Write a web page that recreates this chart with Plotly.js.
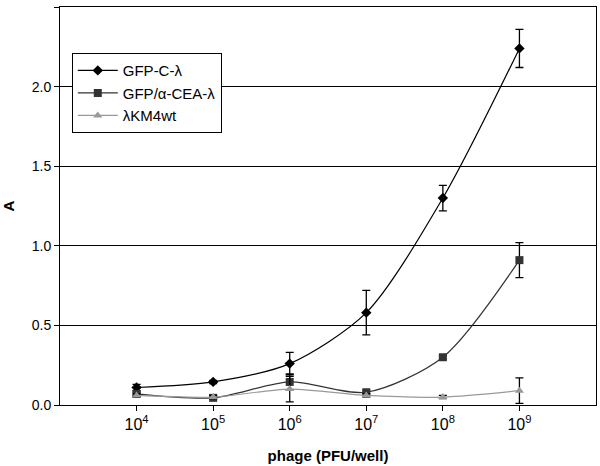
<!DOCTYPE html>
<html>
<head>
<meta charset="utf-8">
<script src="https://cdn.plot.ly/plotly-3.0.1.min.js"></script>
<style>
  body { margin: 0; background: #fff; }
  #chart { width: 600px; height: 466px; }
</style>
</head>
<body>
<div id="chart"></div>
<script>
// phage dose categories (PFU/well)
const doses = ["1e4", "1e5", "1e6", "1e7", "1e8", "1e9"];
const doseLabels = ["10<sup>4</sup>", "10<sup>5</sup>", "10<sup>6</sup>", "10<sup>7</sup>", "10<sup>8</sup>", "10<sup>9</sup>"];

const gfpC = [0.11, 0.145, 0.26, 0.58, 1.30, 2.24];
const gfpCErr = [0.02, 0.01, 0.07, 0.14, 0.08, 0.12];

const gfpCea = [0.07, 0.045, 0.145, 0.08, 0.30, 0.91];
const gfpCeaErr = [0.01, 0.01, 0.05, 0.01, 0.01, 0.11];

const km4wt = [0.06, 0.05, 0.10, 0.06, 0.05, 0.09];
const km4wtErr = [0.01, 0.01, 0.08, 0.01, 0.01, 0.08];

function series(name, y, err, color, symbol, size) {
    return {
        x: doses,
        y: y,
        name: name,
        type: "scatter",
        mode: "lines+markers",
        line: {color: color, width: 1.2, shape: "spline", smoothing: 0.8},
        marker: {color: color, symbol: symbol, size: size},
        error_y: {type: "data", array: err, visible: true, color: "#000", thickness: 1.3, width: 4}
    };
}

const traces = [
    series("GFP-C-λ", gfpC, gfpCErr, "#000000", "diamond", 8),
    series("GFP/α-CEA-λ", gfpCea, gfpCeaErr, "#333333", "square", 8),
    series("λKM4wt", km4wt, km4wtErr, "#999999", "triangle-up", 8)
];

const layout = {
    width: 600,
    height: 466,
    margin: {l: 60, r: 4, t: 7, b: 61},
    paper_bgcolor: "#fff",
    plot_bgcolor: "#fff",
    font: {family: "Liberation Sans, Arial, sans-serif", size: 14, color: "#000"},
    showlegend: true,
    legend: {
        x: 0.022, y: 0.884, xanchor: "left", yanchor: "top",
        bordercolor: "#000", borderwidth: 1, bgcolor: "#fff",
        font: {size: 15}, tracegroupgap: 0, itemwidth: 40
    },
    xaxis: {
        type: "category",
        range: [-1, 6],
        tickvals: doses,
        ticktext: doseLabels,
        showline: true, linecolor: "#000", linewidth: 1, mirror: true,
        ticks: "outside", ticklen: 5, tickcolor: "#000",
        showgrid: false, zeroline: false,
        tickfont: {size: 16},
        title: {text: "<b>phage (PFU/well)</b>", font: {size: 15}, standoff: 18}
    },
    yaxis: {
        range: [0, 2.5],
        dtick: 0.5,
        tickformat: ".1f",
        showline: true, linecolor: "#000", linewidth: 1, mirror: true,
        ticks: "outside", ticklen: 5, tickcolor: "#000",
        showgrid: true, gridcolor: "#000", gridwidth: 1,
        zeroline: false,
        tickfont: {size: 14},
        title: {text: "<b>A</b>", font: {size: 15}, standoff: 16}
    }
};

Plotly.newPlot("chart", traces, layout, {displayModeBar: false});
</script>
</body>
</html>
